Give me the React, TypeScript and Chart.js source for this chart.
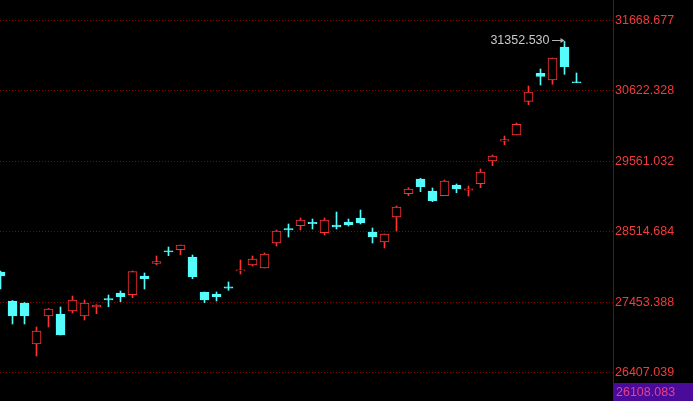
import React, { useEffect, useRef } from "react";
import { Chart, registerables } from "chart.js";

Chart.register(...registerables);

const opens = [
  27906.2, 27472.8, 27442.9, 26830.0, 27248.5, 27278.4, 27323.3, 27248.5, 27385.0, 27510.0,
  27592.3, 27566.9, 27846.5, 28033.3, 28224.0, 28239.6, 28130.5, 27602.8, 27577.4, 27684.0,
  27922.0, 28010.9, 27966.0, 28339.7, 28556.5, 28598.3, 28648.0, 28493.7, 28608.8, 28653.6,
  28713.4, 28504.2, 28354.7, 28728.4, 29076.7, 29296.4, 29117.0, 29046.8, 29206.7, 29130.0,
  29226.2, 29565.5, 29862.0, 29954.1, 30457.9, 30876.4, 30776.3, 31269.5, 30750.0,
];
const highs = [
  27921.2, 27480.0, 27450.0, 27084.1, 27360.6, 27383.1, 27547.5, 27487.7, 27417.4, 27562.4,
  27622.2, 27921.2, 27891.3, 28145.4, 28279.9, 28309.8, 28160.4, 27607.3, 27607.3, 27756.8,
  28085.6, 28145.4, 28190.3, 28534.1, 28623.8, 28713.4, 28698.5, 28713.4, 28803.1, 28698.5,
  28833.0, 28564.0, 28474.3, 28892.8, 29166.4, 29305.0, 29161.9, 29281.5, 29221.7, 29191.8,
  29445.9, 29655.2, 29939.2, 30133.5, 30686.6, 30940.7, 31105.1, 31352.53, 30881.2,
];
const lows = [
  27652.1, 27129.0, 27129.0, 26650.6, 27084.1, 26964.5, 27293.4, 27188.7, 27282.9, 27387.5,
  27462.3, 27522.1, 27652.1, 28015.4, 28149.9, 28164.8, 27806.1, 27447.3, 27472.8, 27632.7,
  27876.4, 27995.9, 27966.0, 28294.9, 28429.4, 28534.1, 28549.0, 28459.3, 28549.0, 28593.9,
  28623.8, 28339.7, 28265.0, 28519.1, 29046.8, 29106.6, 28957.1, 29046.8, 29091.6, 29042.3,
  29166.4, 29495.2, 29809.1, 29954.1, 30407.0, 30701.5, 30712.0, 30861.5, 30735.0,
];
const closes = [
  27846.5, 27248.5, 27248.5, 27024.3, 27353.2, 26964.5, 27487.7, 27442.9, 27410.0, 27490.0,
  27537.0, 27910.7, 27806.1, 28060.2, 28206.0, 28309.8, 27836.0, 27487.7, 27537.0, 27664.0,
  27940.0, 28100.6, 28175.3, 28519.1, 28534.1, 28683.5, 28628.0, 28683.5, 28578.9, 28608.8,
  28638.7, 28429.4, 28474.3, 28877.9, 29146.9, 29181.3, 28972.0, 29266.5, 29146.9, 29150.0,
  29401.0, 29640.2, 29884.0, 30114.1, 30596.9, 30831.6, 31105.1, 30975.1, 30735.0,
];
const tickValues = [31668.677, 30622.328, 29561.032, 28514.684, 27453.388, 26407.039];
const axisMin = 25978.0;
const axisMax = 31972.1;
const bottomLabelValue = 26108.083;
const annotationIndex = 47;
const annotationValue = 31352.53;

const UP = "#ff3232";
const DOWN = "#54fcfc";
const GRID = "#8c0000";
const FONT = '"Liberation Sans", Arial, sans-serif';

const overlayPlugin = {
  id: "overlay",
  afterDraw(chart: any) {
    const ctx = chart.ctx;
    const xs = chart.scales.x;
    const ys = chart.scales.y;
    const area = chart.chartArea;
    const px = xs.getPixelForValue(annotationIndex);
    const py = ys.getPixelForValue(annotationValue);
    const ly = Math.round(py) - 0.5;
    ctx.save();
    ctx.lineWidth = 1;
    ctx.strokeStyle = "#b4b4b4";
    ctx.fillStyle = "#b4b4b4";
    ctx.beginPath();
    ctx.moveTo(px - 12.5, ly);
    ctx.lineTo(px - 1, ly);
    ctx.stroke();
    ctx.beginPath();
    ctx.moveTo(px, ly);
    ctx.lineTo(px - 4, ly - 2.5);
    ctx.lineTo(px - 4, ly + 2.5);
    ctx.closePath();
    ctx.fill();
    ctx.font = `12.5px ${FONT}`;
    ctx.textAlign = "right";
    ctx.textBaseline = "middle";
    ctx.fillStyle = "#c8c8c8";
    ctx.fillText(annotationValue.toFixed(3), px - 15, ly);

    const by = ys.getPixelForValue(bottomLabelValue);
    ctx.fillStyle = "#4a0a9a";
    ctx.fillRect(area.right + 1, Math.round(by) - 9, chart.width - area.right - 1, 19);
    ctx.fillStyle = "#e8408c";
    ctx.textAlign = "left";
    ctx.fillText(bottomLabelValue.toFixed(3), area.right + 3, by + 0.5);
    ctx.restore();
  },
};

export default function App() {
  const ref = useRef<HTMLCanvasElement>(null);
  useEffect(() => {
    document.body.style.margin = "0";
    document.body.style.background = "#000";
    const isUp = opens.map((o, i) => closes[i] >= o);
    const chart = new Chart(ref.current!, {
      type: "bar",
      data: {
        datasets: [
          {
            label: "body",
            order: 0,
            data: opens.map((o, i) => ({ x: i, y: [o, closes[i]] })) as any,
            backgroundColor: isUp.map((u) => (u ? "#000000" : DOWN)),
            borderColor: isUp.map((u) => (u ? UP : DOWN)),
            borderWidth: 1,
            borderSkipped: false,
            barThickness: 9,
            grouped: false,
          } as any,
          {
            label: "wick",
            order: 1,
            data: lows.map((l, i) => ({ x: i, y: [l, highs[i]] })) as any,
            backgroundColor: isUp.map((u) => (u ? UP : DOWN)),
            borderWidth: 0,
            barThickness: 1,
            grouped: false,
          } as any,
        ],
      },
      options: {
        animation: false,
        responsive: true,
        maintainAspectRatio: false,
        events: [],
        layout: { padding: 0 },
        plugins: { legend: { display: false }, tooltip: { enabled: false } },
        scales: {
          x: {
            type: "linear",
            display: false,
            min: -0.5 / 12,
            max: 613 / 12 - 0.5 / 12,
            offset: false,
          },
          y: {
            type: "linear",
            position: "right",
            min: axisMin,
            max: axisMax,
            afterBuildTicks: (scale: any) => {
              scale.ticks = tickValues.map((v) => ({ value: v }));
            },
            afterFit: (scale: any) => {
              scale.width = 80;
              scale.paddingTop = 0;
              scale.paddingBottom = 0;
            },
            grid: { color: GRID, lineWidth: 1, drawTicks: false },
            border: { display: true, color: GRID, width: 1, dash: [1, 2] },
            ticks: {
              autoSkip: false,
              padding: 2,
              color: "#f03c3c",
              font: { family: FONT, size: 12.5 },
              callback: (v: any) => Number(v).toFixed(3),
            },
          },
        },
      },
      plugins: [overlayPlugin],
    });
    return () => chart.destroy();
  }, []);
  return (
    <div style={{ position: "fixed", left: 0, top: 0, width: 693, height: 401, background: "#000" }}>
      <canvas ref={ref} />
    </div>
  );
}
